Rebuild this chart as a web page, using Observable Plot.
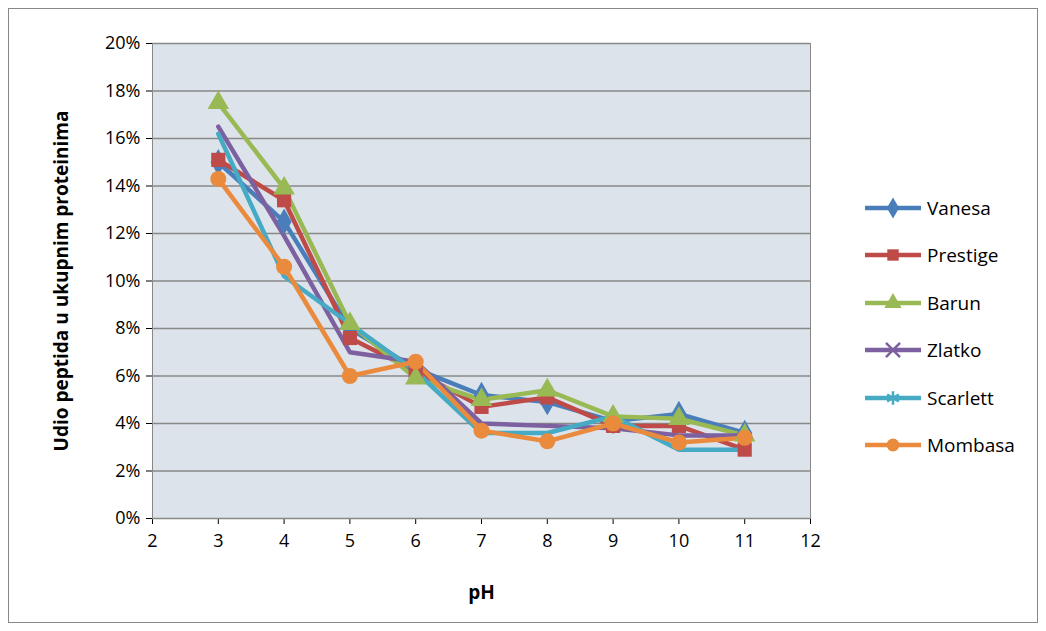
<!DOCTYPE html>
<html><head><meta charset="utf-8">
<script src="https://cdn.jsdelivr.net/npm/d3@7"></script>
<script src="https://cdn.jsdelivr.net/npm/@observablehq/plot@0.6"></script>
<style>
body{margin:0;background:#fff;font-family:"Open Sans","Noto Sans",sans-serif;}
#wrap{position:relative;width:1046px;height:631px;}
#frame{position:absolute;left:8px;top:8px;width:1030px;height:615px;border:1px solid #888;box-sizing:border-box;}
#legend{position:absolute;left:865px;top:184px;font-size:19px;}
#legend div{display:flex;align-items:center;height:47.5px;}
#legend svg{margin-right:6px;}
</style></head><body>
<div id="wrap"><div id="frame"></div><div id="chart"></div><div id="legend"></div></div>
<script>
const ph = [3, 4, 5, 6, 7, 8, 9, 10, 11];
const names = ["Vanesa", "Prestige", "Barun", "Zlatko", "Scarlett", "Mombasa"];
const colors = ["#4a7ebb", "#be4b48", "#98b954", "#7d60a0", "#46aac5", "#ea8a3c"];
const symbols = ["diamond", "square", "triangle", "times", "asterisk", "circle"];
const vanesa   = [15.0, 12.5, 8.0, 6.3, 5.2, 4.9, 4.1, 4.4, 3.6];
const prestige = [15.1, 13.4, 7.6, 6.2, 4.7, 5.1, 3.9, 3.9, 2.9];
const barun    = [17.5, 13.9, 8.2, 5.9, 5.0, 5.4, 4.3, 4.2, 3.5];
const zlatko   = [16.5, 11.9, 7.0, 6.6, 4.0, 3.9, 3.8, 3.5, 3.5];
const scarlett = [16.2, 10.2, 8.2, 6.2, 3.6, 3.6, 4.3, 2.9, 2.9];
const mombasa  = [14.3, 10.6, 6.0, 6.6, 3.7, 3.25, 4.0, 3.2, 3.4];
const series = [vanesa, prestige, barun, zlatko, scarlett, mombasa];

const rows = [];
series.forEach((vals, s) => vals.forEach((v, i) => rows.push({ph: ph[i], v: v / 100, name: names[s]})));

const filled = (n) => !["Zlatko", "Scarlett"].includes(n);
const fig = Plot.plot({
  width: 850, height: 631,
  marginLeft: 152, marginRight: 40, marginTop: 43, marginBottom: 113,
  style: {fontFamily: "Open Sans, Noto Sans, sans-serif", fontSize: "18px", color: "#000", background: "transparent"},
  x: {domain: [2, 12], ticks: d3.range(2, 13), tickSize: 6, tickPadding: 10, label: "pH", labelArrow: "none", labelAnchor: "center", labelOffset: 80},
  y: {domain: [0, 0.2], ticks: d3.range(0, 0.201, 0.02), tickFormat: (d) => Math.round(d * 100) + "%", tickSize: 6, tickPadding: 6,
      label: "Udio peptida u ukupnim proteinima", labelArrow: "none", labelAnchor: "center", labelOffset: 98},
  color: {domain: names, range: colors},
  symbol: {domain: names, range: symbols},
  marks: [
    Plot.frame({fill: "#dde3ea", stroke: "#888"}),
    Plot.gridY({stroke: "#888", strokeOpacity: 1, strokeWidth: 1.5}),
    Plot.line(rows, {x: "ph", y: "v", z: "name", stroke: "name", strokeWidth: 4.5}),
    Plot.dot(rows, {x: "ph", y: "v", symbol: "name", r: 8,
      fill: (d) => filled(d.name) ? d.name : "none", stroke: "name", strokeWidth: (d) => filled(d.name) ? 0 : 2.5})
  ]
});
fig.querySelectorAll("[aria-label$='axis label'] text").forEach((t) => { t.style.fontWeight = "bold"; t.style.fontSize = "19px"; });
document.getElementById("chart").appendChild(fig);

const symScale = Plot.scale({symbol: {domain: names, range: symbols}});
const leg = document.getElementById("legend");
names.forEach((n, i) => {
  const d = document.createElement("div");
  const sym = d3.symbol(symScale.apply(n), 130)();
  d.innerHTML = `<svg width="56" height="22"><line x1="0" x2="56" y1="11" y2="11" stroke="${colors[i]}" stroke-width="4.5"/>
    <path transform="translate(28,11)" d="${sym}" fill="${filled(n) ? colors[i] : "none"}" stroke="${colors[i]}" stroke-width="${filled(n) ? 0 : 2.5}"/></svg>${n}`;
  leg.appendChild(d);
});
</script></body></html>
